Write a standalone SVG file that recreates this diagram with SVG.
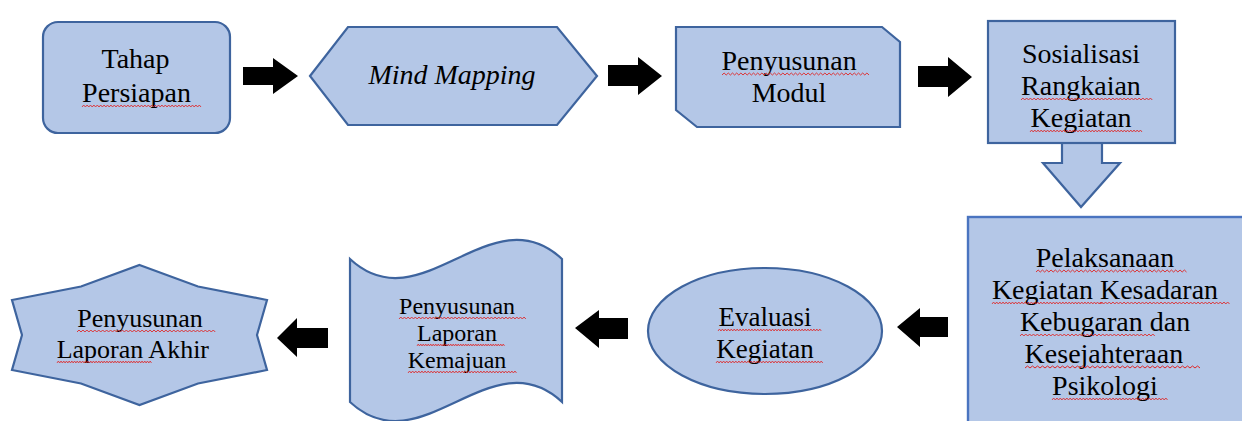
<svg xmlns="http://www.w3.org/2000/svg" xmlns:xlink="http://www.w3.org/1999/xlink" width="1242" height="421" viewBox="0 0 1242 421">
<defs>
<path id="zz" fill="none" stroke="#e02525" stroke-width="1" d="M0,2 l2.5,-2 2.5,2 2.5,-2 2.5,2 2.5,-2 2.5,2 2.5,-2 2.5,2 2.5,-2 2.5,2 2.5,-2 2.5,2 2.5,-2 2.5,2 2.5,-2 2.5,2 2.5,-2 2.5,2 2.5,-2 2.5,2 2.5,-2 2.5,2 2.5,-2 2.5,2 2.5,-2 2.5,2 2.5,-2 2.5,2 2.5,-2 2.5,2 2.5,-2 2.5,2 2.5,-2 2.5,2 2.5,-2 2.5,2 2.5,-2 2.5,2 2.5,-2 2.5,2 2.5,-2 2.5,2 2.5,-2 2.5,2 2.5,-2 2.5,2 2.5,-2 2.5,2 2.5,-2 2.5,2 2.5,-2 2.5,2 2.5,-2 2.5,2 2.5,-2 2.5,2 2.5,-2 2.5,2 2.5,-2 2.5,2 2.5,-2 2.5,2 2.5,-2 2.5,2 2.5,-2 2.5,2 2.5,-2 2.5,2 2.5,-2 2.5,2"/>
</defs>
<rect width="1242" height="421" fill="#fff"/>

<g id="connectors">
<polygon fill="#000" points="243,67 273,67 273,58 298,76 273,94 273,85 243,85"/>
<polygon fill="#000" points="608,65 638,65 638,57 662,76 638,95 638,86 608,86"/>
<polygon fill="#000" points="918,66 948,66 948,57 972,77 948,97 948,87 918,87"/>
<polygon fill="#b4c7e7" stroke="#3e649e" stroke-width="2.2" points="1062,141 1102,141 1102,163 1120,163 1081,207 1043,163 1062,163"/>
<polygon fill="#000" points="948,317 920,317 920,308 897,327 920,347 920,337 948,337"/>
<polygon fill="#000" points="628,318 599,318 599,310 575,328 599,348 599,339 628,339"/>
<polygon fill="#000" points="328,328 297,328 297,318 277,338 297,357 297,348 328,348"/>
</g>

<g id="node-tahap-persiapan">
<rect fill="#b4c7e7" stroke="#3e649e" stroke-width="2.2" x="43" y="22" width="187" height="111" rx="15"/>
<text font-family="Liberation Serif" font-size="28" x="101.5" y="68">Tahap</text>
<text font-family="Liberation Serif" font-size="28" x="82.1" y="102">Persiapan</text>
<use xlink:href="#zz" href="#zz" transform="translate(82,105) scale(0.68,1)"/>
</g>

<g id="node-mind-mapping">
<polygon fill="#b4c7e7" stroke="#3e649e" stroke-width="2.2" points="310,76 348,27 557,27 597,76 557,125 348,125"/>
<text font-family="Liberation Serif" font-size="28" font-style="italic" x="368.4" y="84">Mind Mapping</text>
</g>

<g id="node-penyusunan-modul">
<polygon fill="#b4c7e7" stroke="#3e649e" stroke-width="2.2" points="676,27 882,27 900,42 900,127 697,127 676,110"/>
<text font-family="Liberation Serif" font-size="28" x="721.4" y="70">Penyusunan</text>
<text font-family="Liberation Serif" font-size="28" x="751.7" y="102">Modul</text>
<use xlink:href="#zz" href="#zz" transform="translate(722,73) scale(0.84,1)"/>
</g>

<g id="node-sosialisasi">
<rect fill="#b4c7e7" stroke="#3e649e" stroke-width="2.2" x="988" y="21" width="187" height="122"/>
<text font-family="Liberation Serif" font-size="28" x="1021.9" y="63">Sosialisasi</text>
<text font-family="Liberation Serif" font-size="28" x="1021.1" y="95">Rangkaian</text>
<text font-family="Liberation Serif" font-size="28" x="1030.5" y="127">Kegiatan</text>
<use xlink:href="#zz" href="#zz" transform="translate(1021,98) scale(0.75,1)"/>
<use xlink:href="#zz" href="#zz" transform="translate(1030,130) scale(0.64,1)"/>
</g>

<g id="node-pelaksanaan">
<rect fill="#b4c7e7" stroke="#4a74c0" stroke-width="2.4" x="968" y="217" width="282" height="212"/>
<text font-family="Liberation Serif" font-size="28" x="1035.8" y="267">Pelaksanaan</text>
<text font-family="Liberation Serif" font-size="28" x="991.9" y="299">Kegiatan Kesadaran</text>
<text font-family="Liberation Serif" font-size="28" x="1019.9" y="331">Kebugaran dan</text>
<text font-family="Liberation Serif" font-size="28" x="1024.6" y="363">Kesejahteraan</text>
<text font-family="Liberation Serif" font-size="28" x="1052.1" y="395">Psikologi</text>
<use xlink:href="#zz" href="#zz" transform="translate(1036,270) scale(0.86,1)"/>
<use xlink:href="#zz" href="#zz" transform="translate(992,302) scale(0.63,1)"/>
<use xlink:href="#zz" href="#zz" transform="translate(1100,302) scale(0.74,1)"/>
<use xlink:href="#zz" href="#zz" transform="translate(1020,334) scale(0.77,1)"/>
<use xlink:href="#zz" href="#zz" transform="translate(1025,366) scale(1,1)"/>
<use xlink:href="#zz" href="#zz" transform="translate(1052,398) scale(0.66,1)"/>
</g>

<g id="node-evaluasi">
<ellipse fill="#b4c7e7" stroke="#3e649e" stroke-width="2.2" cx="765" cy="331" rx="117" ry="63"/>
<text font-family="Liberation Serif" font-size="27" x="718.5" y="326">Evaluasi</text>
<text font-family="Liberation Serif" font-size="27" x="716.3" y="358">Kegiatan</text>
<use xlink:href="#zz" href="#zz" transform="translate(718,329) scale(0.59,1)"/>
<use xlink:href="#zz" href="#zz" transform="translate(716,361) scale(0.61,1)"/>
</g>

<g id="node-laporan-kemajuan">
<path fill="#b4c7e7" stroke="#3e649e" stroke-width="2.2" d="M350,259 C421,325 491,193 562,259 L562,402 C491,336 421,468 350,402 Z"/>
<text font-family="Liberation Serif" font-size="24" x="399.1" y="314">Penyusunan</text>
<text font-family="Liberation Serif" font-size="24" x="417" y="341">Laporan</text>
<text font-family="Liberation Serif" font-size="24" x="407.7" y="368">Kemajuan</text>
<use xlink:href="#zz" href="#zz" transform="translate(399,317) scale(0.725,1)"/>
<use xlink:href="#zz" href="#zz" transform="translate(417,344) scale(0.5,1)"/>
<use xlink:href="#zz" href="#zz" transform="translate(408,371) scale(0.62,1)"/>
</g>

<g id="node-laporan-akhir">
<polygon fill="#b4c7e7" stroke="#3e649e" stroke-width="2.2" points="139.5,265 198,286.5 267,300 257,335 267,370 198,383.5 139.5,405 81,383.5 12,370 22,335 12,300 81,286.5"/>
<text font-family="Liberation Serif" font-size="26" x="77.2" y="327">Penyusunan</text>
<text font-family="Liberation Serif" font-size="26" x="56.7" y="358">Laporan Akhir</text>
<use xlink:href="#zz" href="#zz" transform="translate(77,330) scale(0.79,1)"/>
<use xlink:href="#zz" href="#zz" transform="translate(57,361) scale(0.54,1)"/>
</g>
</svg>
